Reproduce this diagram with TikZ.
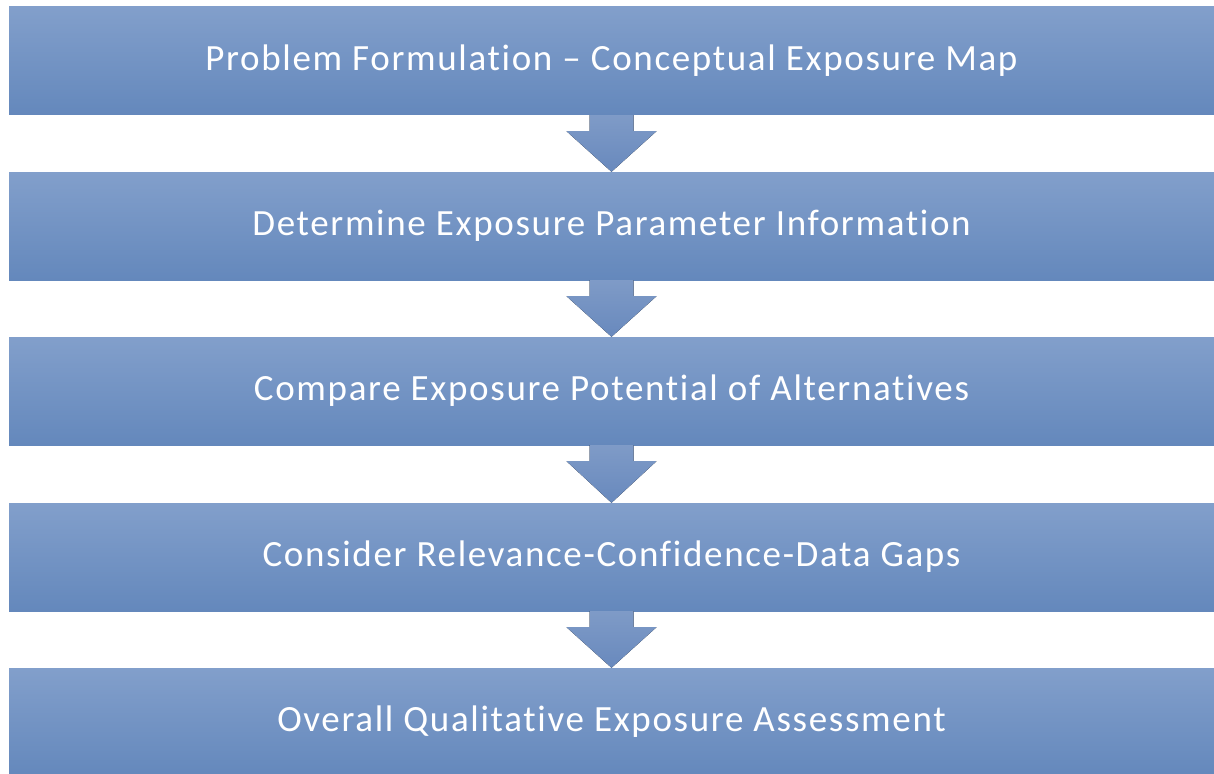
\documentclass[tikz,border=0pt]{standalone}
\usepackage{fontspec}
\setmainfont[Ligatures=NoCommon, LetterSpace=4.5]{Carlito}
\usetikzlibrary{calc}
\definecolor{boxtop}{HTML}{829FCB}
\definecolor{boxbot}{HTML}{6488BC}
\definecolor{arrowc}{HTML}{6889BD}
\tikzset{
  stepbox/.style={rectangle, minimum width=1205pt, minimum height=108pt, inner sep=0pt,
    top color=boxtop, bottom color=boxbot, text=white, font=\fontsize{37}{40}\selectfont},
  downarrow/.style={top color=arrowc!85!white, bottom color=arrowc, draw=none}
}
\begin{document}
\begin{tikzpicture}[x=1pt,y=-1pt]
\useasboundingbox (0,0) rectangle (1214,773);
\fill[white] (0,0) rectangle (1214,773);
\node[stepbox] (b1) at (611.5,61) {Problem Formulation – Conceptual Exposure Map};
\node[stepbox] (b2) at (611.5,226) {Determine Exposure Parameter Information};
\node[stepbox] (b3) at (611.5,391) {Compare Exposure Potential of Alternatives};
\node[stepbox] (b4) at (611.5,557) {Consider Relevance-Confidence-Data Gaps};
\node[stepbox] (b5) at (611.5,722) {Overall Qualitative Exposure Assessment};
\foreach \a/\b in {b1/b2,b2/b3,b3/b4,b4/b5}{
  \fill[downarrow] ($(\a.south)+(-22,0)$) -- ($(\a.south)+(-22,16)$) -- ($(\a.south)+(-45,16)$)
    -- (\b.north) -- ($(\a.south)+(45,16)$) -- ($(\a.south)+(22,16)$) -- ($(\a.south)+(22,0)$) -- cycle;
}
\end{tikzpicture}
\end{document}
